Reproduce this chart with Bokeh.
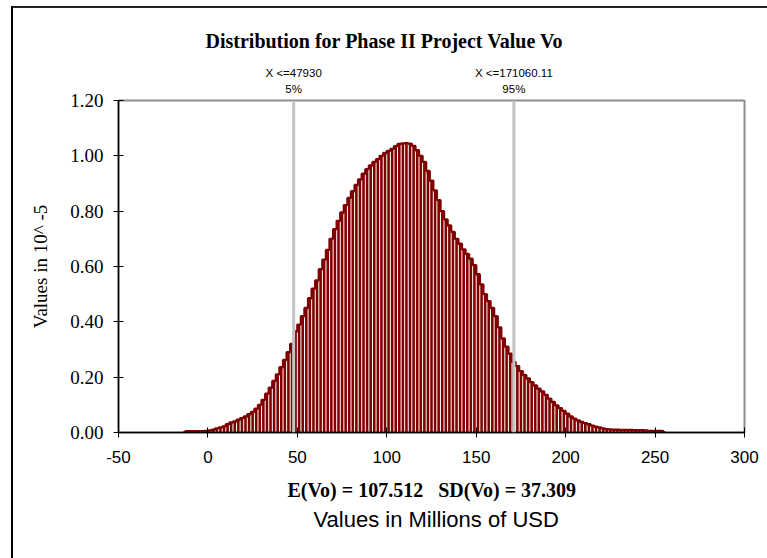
import numpy as np
from bokeh.plotting import figure
from bokeh.models import (Range1d, FixedTicker, PrintfTickFormatter, Span, Title, LinearAxis)
from bokeh.embed import file_html
from bokeh.resources import INLINE

# ---------------- data ----------------
title_text = "Distribution for Phase II Project Value Vo"
bin_start = -14.0
bin_width = 2.0
density = [
    0.005, 0.005, 0.005, 0.005, 0.005, 0.005, 0.006, 0.007, 0.010, 0.015,   # -13 .. 5
    0.018, 0.022, 0.030, 0.036, 0.040, 0.046, 0.052, 0.058, 0.066, 0.074,   # 7 .. 25
    0.086, 0.100, 0.118, 0.140, 0.162, 0.186, 0.210, 0.236, 0.262, 0.290,   # 27 .. 45
    0.320, 0.365, 0.390, 0.420, 0.450, 0.485, 0.520, 0.550, 0.590, 0.625,   # 47 .. 65
    0.660, 0.700, 0.735, 0.765, 0.795, 0.822, 0.848, 0.872, 0.895, 0.915,   # 67 .. 85
    0.935, 0.952, 0.965, 0.978, 0.988, 1.000, 1.010, 1.018, 1.025, 1.035,   # 87 .. 105
    1.043, 1.045, 1.046, 1.044, 1.036, 1.020, 1.000, 0.978, 0.945, 0.910,   # 107 .. 125
    0.875, 0.840, 0.800, 0.770, 0.748, 0.725, 0.700, 0.682, 0.662, 0.645,   # 127 .. 145
    0.628, 0.605, 0.572, 0.535, 0.500, 0.475, 0.450, 0.420, 0.380, 0.340,   # 147 .. 165
    0.310, 0.285, 0.255, 0.240, 0.222, 0.208, 0.195, 0.182, 0.170, 0.158,   # 167 .. 185
    0.148, 0.136, 0.122, 0.110, 0.098, 0.088, 0.078, 0.068, 0.058, 0.050,   # 187 .. 205
    0.044, 0.038, 0.034, 0.030, 0.025, 0.021, 0.018, 0.015, 0.012, 0.011,   # 207 .. 225
    0.010, 0.010, 0.009, 0.009, 0.009, 0.009, 0.008, 0.008, 0.008, 0.007,   # 227 .. 245
    0.006, 0.006, 0.006, 0.006, 0.005,                                      # 247 .. 255
]
percentile_values = [47.93, 171.06]
percentile_labels = ["X <=47930", "X <=171060.11"]
percentile_pcts = ["5%", "95%"]
x_ticks = [-50, 0, 50, 100, 150, 200, 250, 300]
y_ticks = [0.0, 0.2, 0.4, 0.6, 0.8, 1.0, 1.2]
stats_text = "E(Vo) = 107.512\u00a0\u00a0 SD(Vo) = 37.309"
x_title = "Values in Millions of USD"
y_title = "Values in 10^ -5"

centers = bin_start + bin_width / 2 + bin_width * np.arange(len(density))

# ---------------- figure ----------------
MAROON = "#800000"
p = figure(width=767, height=558, output_backend="svg", toolbar_location=None,
           x_range=Range1d(-50, 300), y_range=Range1d(0, 1.2),
           min_border_left=118, min_border_right=23,
           min_border_top=100, min_border_bottom=126)
p.background_fill_color = "white"
p.border_fill_color = None
p.styles = {
    "background": ("linear-gradient(#000,#000) 11px 6px / 2px 100% no-repeat, "
                   "linear-gradient(#222,#222) 11px 6px / 100% 2px no-repeat, #ffffff")
}
p.outline_line_color = "#8c8c8c"
p.outline_line_width = 2
p.xgrid.visible = False
p.ygrid.visible = False

p.vbar(x=centers, top=density, width=bin_width * 0.72, bottom=0,
       fill_color=MAROON, line_color=None)
p.step(x=centers, y=density, mode="center", line_color=MAROON, line_width=2.4)

for v in percentile_values:
    p.add_layout(Span(location=v, dimension="height", line_color="#c4c4c4",
                      line_width=3))

# main axes
xa = p.xaxis[0]
xa.ticker = FixedTicker(ticks=x_ticks)
xa.formatter = PrintfTickFormatter(format="%d")
xa.axis_line_color = "black"
xa.axis_line_width = 1.5
xa.major_tick_in = 5
xa.major_tick_out = 5
xa.major_tick_line_color = "black"
xa.minor_tick_line_color = None
xa.major_label_text_font = "Liberation Sans"
xa.major_label_text_font_size = "17px"
xa.major_label_text_color = "black"
xa.major_label_standoff = 13

ya = p.yaxis[0]
ya.ticker = FixedTicker(ticks=y_ticks)
ya.formatter = PrintfTickFormatter(format="%.2f")
ya.axis_line_color = "black"
ya.axis_line_width = 1.5
ya.major_tick_in = 5
ya.major_tick_out = 5
ya.major_tick_line_color = "black"
ya.minor_tick_line_color = None
ya.major_label_text_font = "Liberation Serif"
ya.major_label_text_font_size = "19px"
ya.major_label_text_color = "black"
ya.major_label_standoff = 10
ya.axis_label = y_title
ya.axis_label_text_font = "Liberation Serif"
ya.axis_label_text_font_size = "19px"
ya.axis_label_text_font_style = "normal"
ya.axis_label_text_color = "black"
ya.axis_label_standoff = 16

# percentile labels as tick labels of axes above the frame
def label_axis(texts, standoff):
    ax = LinearAxis(ticker=FixedTicker(ticks=percentile_values),
                    major_label_overrides={v: t for v, t in zip(percentile_values, texts)},
                    axis_line_color=None, major_tick_line_color=None,
                    minor_tick_line_color=None, major_tick_in=0, major_tick_out=0,
                    major_label_standoff=standoff,
                    major_label_text_font="Liberation Sans",
                    major_label_text_font_size="11.5px",
                    major_label_text_color="black")
    p.add_layout(ax, "above")

label_axis(percentile_pcts, 6)
label_axis(percentile_labels, 1)

p.add_layout(Title(text=title_text, align="left", offset=87, text_font="Liberation Serif",
                   text_font_size="20px", text_font_style="bold", text_color="black",
                   standoff=24), "above")

p.add_layout(Title(text=stats_text, align="left", offset=169, text_font="Liberation Serif",
                   text_font_size="20px", text_font_style="bold", text_color="black",
                   standoff=23), "below")
p.add_layout(Title(text=x_title, align="left", offset=195, text_font="Liberation Sans",
                   text_font_size="22px", text_font_style="normal", text_color="black",
                   standoff=-16), "below")

open("out.html", "w").write(file_html(p, INLINE))
